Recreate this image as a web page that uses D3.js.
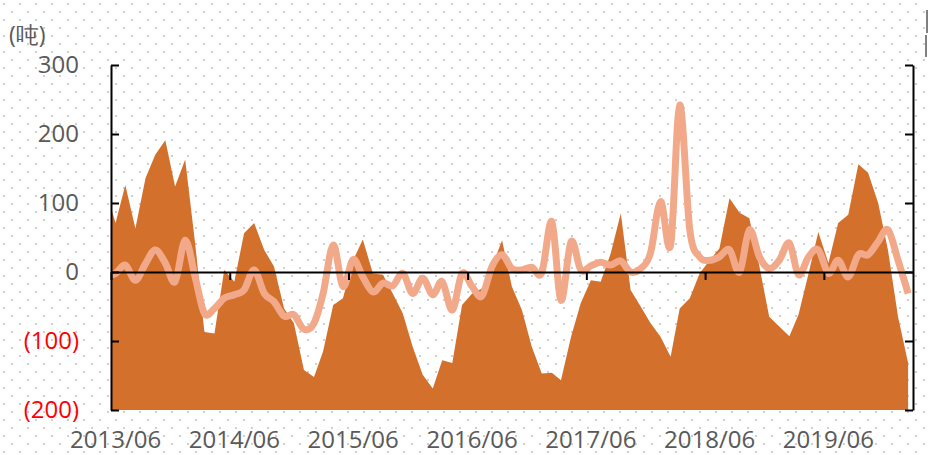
<!DOCTYPE html>
<html>
<head>
<meta charset="utf-8">
<script src="https://cdn.jsdelivr.net/npm/d3@7"></script>
<style>
  body { margin: 0; background: #fff; }
  svg { display: block; font-family: "Open Sans", sans-serif; }
</style>
</head>
<body>
<svg width="928" height="455"></svg>
<script>
// monthly points, 2013/05 .. 2020/02 (first one sits left of the axis and gets clipped)
const months = d3.range(82).map(i => new Date(2013, 4 + i, 15));

// filled series
const areaValues = [120,
  71, 126, 63, 136, 170, 191, 124, 163, 40, -87, -89, 3, -14, 56, 71, 32, 8, -53, -74, -142, -152,
  -115, -48, -38, 17, 47, -2, -4, -31, -60, -108, -149, -169, -128, -132, -48, -31, -24, 8, 46, -21,
  -55, -108, -147, -146, -157, -94, -45, -12, -14, 27, 85, -26, -50, -74, -94, -123, -53, -38, -2, 17,
  34, 107, 86, 78, 8, -65, -79, -93, -62, -2, 58, 13, 71, 83, 156, 144, 100, 32, -65, -132];

// smooth line series
const lineValues = [-6,
  -2, 10, -12, 12, 32, 13, -14, 46, -8, -60, -53, -38, -33, -26, 3, -31, -43, -64, -62, -83, -74,
  -31, 39, -21, 18, -7, -29, -16, -20, -2, -31, -9, -33, -14, -55, -2, -21, -35, 8, 25, 5,
  3, 7, -1, 73, -41, 44, 3, 9, 14, 10, 16, 0, 5, 27, 102, 39, 242, 61, 22, 17,
  22, 32, 0, 61, 22, 5, 17, 42, -4, 22, 32, -2, 17, -7, 25, 25, 44, 61, 17, -31];

const yTicks = [300, 200, 100, 0, -100, -200];
const xLabels = ["2013/06", "2014/06", "2015/06", "2016/06", "2017/06", "2018/06", "2019/06"];

const mLeft = 111, mRight = 913, mTop = 65, mBottom = 410;

const svg = d3.select("svg");

// dotted background
const defs = svg.append("defs");
const pat = defs.append("pattern")
  .attr("id", "dots").attr("width", 16).attr("height", 16)
  .attr("patternUnits", "userSpaceOnUse");
pat.append("rect").attr("x", 3).attr("y", 3).attr("width", 2).attr("height", 2).attr("fill", "#cfcfcf");
pat.append("rect").attr("x", 11).attr("y", 11).attr("width", 2).attr("height", 2).attr("fill", "#cfcfcf");
svg.append("rect").attr("width", 928).attr("height", 455).attr("fill", "url(#dots)");

defs.append("clipPath").attr("id", "plot")
  .append("rect").attr("x", mLeft).attr("y", mTop - 20)
  .attr("width", mRight - mLeft).attr("height", mBottom - mTop + 20);

const x = d3.scaleTime()
  .domain([new Date(2013, 5, 1), new Date(2020, 2, 1)])
  .range([mLeft, mRight]);

const y = d3.scaleLinear().domain([-200, 300]).range([mBottom, mTop]);

const rows = months.map((d, i) => ({ date: d, a: areaValues[i], l: lineValues[i] }));

const g = svg.append("g").attr("clip-path", "url(#plot)");

g.append("path")
  .datum(rows)
  .attr("fill", "#D3702C")
  .attr("d", d3.area().x(d => x(d.date)).y0(y(-200)).y1(d => y(d.a)));

// zero line with yearly ticks
const zeroAxis = d3.axisBottom(x)
  .tickValues(xLabels.map(s => new Date(+s.slice(0, 4), 5, 1)))
  .tickSize(8).tickSizeOuter(0).tickFormat("");
const za = svg.append("g").attr("transform", `translate(0,${y(0)})`).call(zeroAxis);
za.selectAll("path, line").attr("stroke", "#000").attr("stroke-width", 2);

g.append("path")
  .datum(rows)
  .attr("fill", "none")
  .attr("stroke", "#F2A98A")
  .attr("stroke-width", 7)
  .attr("stroke-linejoin", "round")
  .attr("d", d3.line().curve(d3.curveCardinal.tension(0)).x(d => x(d.date)).y(d => y(d.l)));

// y axes
const fmt = d => d < 0 ? `(${-d})` : `${d}`;
const ya = svg.append("g").attr("transform", `translate(${mLeft},0)`)
  .call(d3.axisLeft(y).tickValues(yTicks).tickSize(-8).tickSizeOuter(0).tickPadding(32).tickFormat(fmt));
const yb = svg.append("g").attr("transform", `translate(${mRight},0)`)
  .call(d3.axisRight(y).tickValues(yTicks).tickSize(-8).tickSizeOuter(0).tickFormat(""));
[ya, yb].forEach(a => a.selectAll("path, line").attr("stroke", "#000").attr("stroke-width", 2));
ya.selectAll("text")
  .attr("font-size", 24)
  .attr("font-family", "Open Sans")
  .attr("fill", d => d < 0 ? "#FF0000" : "#595959");

// x labels at the bottom
svg.append("g").selectAll("text")
  .data(xLabels)
  .join("text")
  .attr("x", s => x(new Date(+s.slice(0, 4), 5, 15)))
  .attr("y", 448)
  .attr("text-anchor", "middle")
  .attr("font-size", 24)
  .attr("fill", "#595959")
  .text(s => s);

// unit label
svg.append("text")
  .attr("x", 9).attr("y", 43)
  .attr("font-size", 23)
  .attr("fill", "#595959")
  .text("(吨)");

// clipped legend remnants at the right edge
svg.append("rect").attr("x", 926).attr("y", 10).attr("width", 2).attr("height", 23).attr("fill", "#808080");
svg.append("rect").attr("x", 925).attr("y", 35).attr("width", 2).attr("height", 22).attr("fill", "#808080");
</script>
</body>
</html>
